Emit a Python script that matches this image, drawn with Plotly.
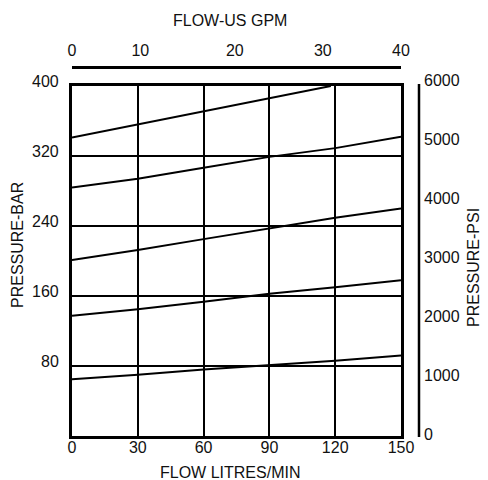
import plotly.graph_objects as go

# ---- data ----
flow_lpm = [0, 30, 60, 90, 120, 150]
curve_1_x = [0, 30, 60, 90, 118]
curve_1_bar = [341, 356, 371, 386, 400]
curve_2_bar = [284, 294, 306.5, 319, 329, 342]
curve_3_bar = [201, 212.5, 225, 237, 249.5, 260]
curve_4_bar = [137.5, 145, 153.5, 162.5, 170, 178]
curve_5_bar = [65, 70, 76, 81, 86, 92]

lpm_ticks = [0, 30, 60, 90, 120, 150]
bar_ticks = [80, 160, 240, 320, 400]
psi_ticks = [0, 1000, 2000, 3000, 4000, 5000, 6000]
gpm_labels = ["0", "10", "20", "30", "40"]

# label placement along the top scale (as drawn in the reference)
gpm_label_pos = [0, 8.3, 19.8, 30.5, 40]

FONT = "Liberation Sans, Arial, sans-serif"
FS = 16
OFF = 8  # page body margin

# page-pixel layout of the reference
PLOT_L, PLOT_R, PLOT_T, PLOT_B = 72, 401, 86, 436
TOPLINE_Y, PSILINE_X = 67, 419

fig = go.Figure()
series = [(curve_1_x, curve_1_bar), (flow_lpm, curve_2_bar), (flow_lpm, curve_3_bar),
          (flow_lpm, curve_4_bar), (flow_lpm, curve_5_bar)]
for xs, ys in series:
    fig.add_trace(go.Scatter(x=xs, y=ys, mode="lines", line=dict(color="black", width=2),
                             showlegend=False, hoverinfo="skip"))
fig.add_trace(go.Scatter(x=[None], y=[None], xaxis="x2", yaxis="y2", mode="markers",
                         showlegend=False, hoverinfo="skip"))

W, H = 488 - OFF, 480 - OFF
L = PLOT_L - OFF
R = W - (PSILINE_X - OFF)
T = TOPLINE_Y - OFF
B = H - (PLOT_B - OFF)
pw, ph = W - L - R, H - T - B

def px(xp):
    return (xp - OFF - L) / pw

def py(yp):
    return (H - B - (yp - OFF)) / ph

# PSI scale: 0 at y=434, 59 px per 1000 psi
psi_per_px = 1000 / 59.0
psi_top_px = 76
psi_range = [(434 - PLOT_B) * psi_per_px, (434 - psi_top_px) * psi_per_px]

fig.update_layout(
    width=W, height=H, autosize=False,
    margin=dict(l=L, r=R, t=T, b=B, pad=0),
    paper_bgcolor="white", plot_bgcolor="rgba(0,0,0,0)",
    font=dict(family=FONT, size=FS, color="#111"),
    xaxis=dict(range=[0, 150], domain=[0, px(PLOT_R)], tickvals=lpm_ticks,
               showgrid=True, gridcolor="black", gridwidth=1.6,
               showline=True, linecolor="black", linewidth=2.5, mirror=True,
               zeroline=False, ticks="", ticklabelstandoff=-5,
               tickfont=dict(size=FS, family=FONT)),
    yaxis=dict(range=[0, 400], domain=[0, py(PLOT_T)], tickvals=bar_ticks,
               showgrid=True, gridcolor="black", gridwidth=1.6,
               showline=True, linecolor="black", linewidth=2.5, mirror=True,
               zeroline=False, ticks="", showticklabels=False),
    xaxis2=dict(range=[0, 40], overlaying="x", side="top", anchor="free", position=1,
                tickvals=gpm_label_pos, ticktext=gpm_labels, showgrid=False,
                showline=True, linecolor="black", linewidth=2.5, zeroline=False,
                ticks="", ticklabelstandoff=4, tickfont=dict(size=FS, family=FONT)),
    yaxis2=dict(range=psi_range, domain=[0, py(psi_top_px)], side="right", anchor="free",
                position=1, tickvals=psi_ticks, showgrid=False, showline=False,
                zeroline=False, ticks="", ticklabelstandoff=4,
                tickfont=dict(size=FS, family=FONT)),
)

# bar tick labels, tied to the bar scale, sitting a little above their grid lines
for v in bar_ticks:
    fig.add_annotation(text=str(v), xref="paper", yref="y", x=0, y=v,
                       xanchor="right", yanchor="middle", xshift=-11, yshift=4.5,
                       showarrow=False, font=dict(size=FS, family=FONT, color="#111"))

# the separate PSI scale bar
fig.add_shape(type="line", xref="paper", yref="paper", x0=1, x1=1,
              y0=py(437), y1=py(84), line=dict(color="black", width=2.5))

ann = [
    ("FLOW-US GPM", 230, 21, 0),
    ("FLOW LITRES/MIN", 230, 472, 0),
    ("PRESSURE-BAR", 18, 245, -90),
    ("PRESSURE-PSI", 473, 268, -90),
]
for text, xp, yp, ang in ann:
    fig.add_annotation(text=text, xref="paper", yref="paper", x=px(xp), y=py(yp),
                       xanchor="center", yanchor="middle", showarrow=False,
                       textangle=ang, font=dict(size=FS, family=FONT, color="#111"))

fig.write_html("out.html")
